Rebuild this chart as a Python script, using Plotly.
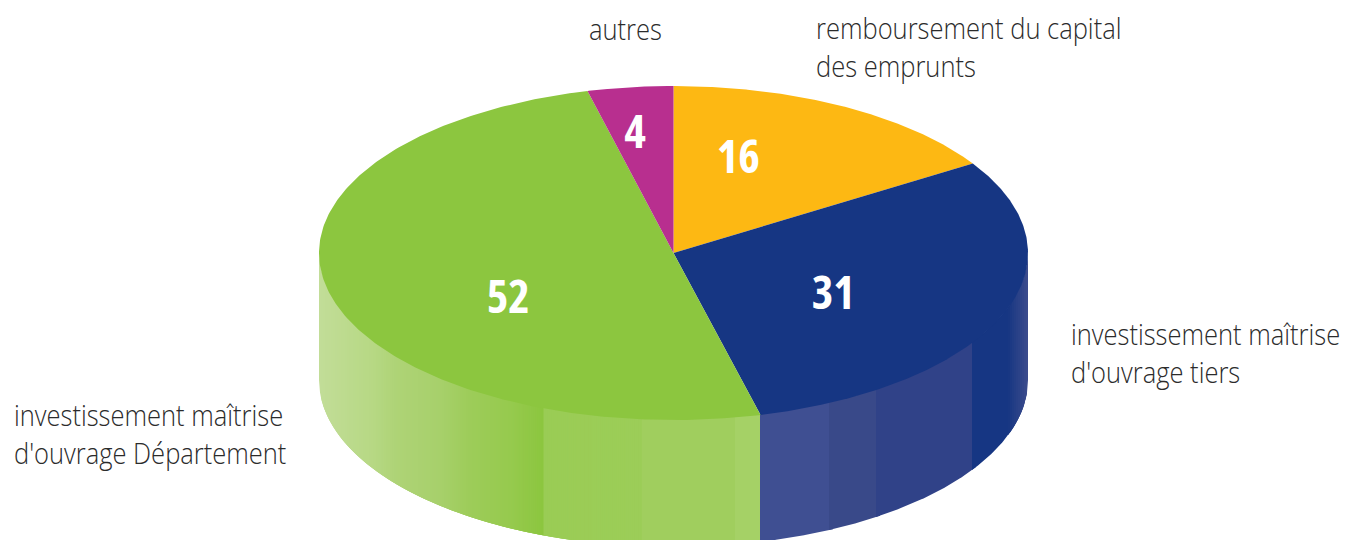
import numpy as np
import plotly.graph_objects as go

# --- data -------------------------------------------------------------
categories = ["remboursement du capital<br>des emprunts",
              "investissement maîtrise<br>d'ouvrage tiers",
              "investissement maîtrise<br>d'ouvrage Département",
              "autres"]
value_labels = ["16", "31", "52", "4"]
drawn_shares = [16, 30.05, 50.05, 3.9]   # slice sizes

# --- drawing style ----------------------------------------------------
top_colors = ["#FDB813", "#163683", "#8CC63F", "#B82F8F"]
CX, CY, RX, RY, DEPTH = 673.5, 253.0, 354.5, 167.0, 127.0
W, H = 1348, 540
label_pos = [(813.5, 46.5), (1068.5, 352.5), (11.5, 433.5), (586.5, 28.5)]
value_pos = [(738.5, 154.5), (833, 291), (508, 295), (635, 130)]
FONT = "Open Sans"

wall = [
    (319, 375, "#C2DD98", "#B6D883"), (375, 396, "#B6D883", "#AED376"),
    (396, 440, "#AED376", "#A7D06B"), (440, 470, "#A7D06B", "#9DCC59"),
    (470, 510, "#9DCC59", "#96CA4E"), (510, 543.5, "#96CA4E", "#8CC63F"),
    (543.5, 642, "#9ACC55", "#9CCD58"), (642, 735, "#A0CE5E", "#A0CE5E"),
    (735, 760, "#A5D166", "#A5D166"),
    (760, 829, "#3F4F92", "#3F4F92"), (829, 876, "#394989", "#394989"),
    (876, 972, "#304288", "#304288"),
    (972, 1008, "#163683", "#163683"), (1008, 1028, "#163683", "#3D4C8C"),
]


def rgb(h):
    return np.array([int(h[i:i + 2], 16) for i in (1, 3, 5)], float)


def mix(a, b, t):
    c = rgb(a) * (1 - t) + rgb(b) * t
    return "rgb(%d,%d,%d)" % tuple(np.round(c))


fig = go.Figure()
RIGHT = CX + RX

# wall: painted left to right, each strip running under the next
for x0, x1, c0, c1 in wall:
    n = 1 if c0 == c1 else max(1, int(np.ceil((x1 - x0) / 2)))
    edges = np.linspace(x0, x1, n + 1)
    for i in range(n):
        xs = np.linspace(edges[i], edges[i + 1], max(3, int(edges[i + 1] - edges[i]) + 1))
        xs = np.r_[xs, np.arange(edges[i + 1] + 1, min(edges[i + 1] + 5, RIGHT), 1.0)]
        if i == n - 1 and x1 >= RIGHT - 1:
            xs = np.r_[xs[xs < RIGHT], RIGHT]
        u = np.clip((xs - CX) / RX, -1, 1)
        yt = CY + RY * np.sqrt(1 - u ** 2) - 1
        yb = yt + 1 + DEPTH
        col = mix(c0, c1, (i + .5) / n)
        fig.add_trace(go.Scatter(
            x=np.r_[xs, xs[::-1]], y=np.r_[yt, yb[::-1]],
            mode="lines", fill="toself", fillcolor=col,
            line=dict(width=0), hoverinfo="skip", showlegend=False))

# top face: angles run clockwise from 12 o'clock
shares = np.array(drawn_shares, float) / sum(drawn_shares)
ends = np.cumsum(shares) * 2 * np.pi
starts = np.r_[0, ends[:-1]]
for name, a0, a1, col in zip(categories, starts, ends, top_colors):
    t = np.linspace(a0, a1, 240)
    xs = CX + RX * np.sin(t)
    ys = CY - RY * np.cos(t)
    fig.add_trace(go.Scatter(
        x=np.r_[CX, xs, CX], y=np.r_[CY, ys, CY],
        mode="lines", fill="toself", fillcolor=col,
        line=dict(width=0), name=name.replace("<br>", " "),
        hoverinfo="name", showlegend=False))

annotations = []
for text, (x, y) in zip(categories, label_pos):
    annotations.append(dict(x=x, y=y, text=text, showarrow=False, xanchor="left",
                            yanchor="middle", align="left",
                            font=dict(family=FONT, size=29, color="#2B2B2B", weight=300)))
for text, (x, y) in zip(value_labels, value_pos):
    annotations.append(dict(x=x, y=y, text="<b>%s</b>" % text, showarrow=False,
                            font=dict(family=FONT, size=46, color="#FFFFFF")))

fig.update_layout(
    width=W, height=H, margin=dict(l=0, r=0, t=0, b=0),
    paper_bgcolor="white", plot_bgcolor="white",
    xaxis=dict(range=[0, W], visible=False, fixedrange=True),
    yaxis=dict(range=[H, 0], visible=False, fixedrange=True),
    annotations=annotations, showlegend=False,
)
fig.write_html("out.html", include_plotlyjs=True,
               config=dict(displayModeBar=False),
               post_script="document.body.style.margin='0';document.body.style.overflow='hidden';"
                           "document.querySelectorAll('.annotation-text').forEach(function(e,i){"
                           "if(i<4){e.style.transformBox='fill-box';e.style.transformOrigin='left center';e.style.transform='scaleX(0.88)';}"
                           "else{e.style.fontStretch='75%';}});")
